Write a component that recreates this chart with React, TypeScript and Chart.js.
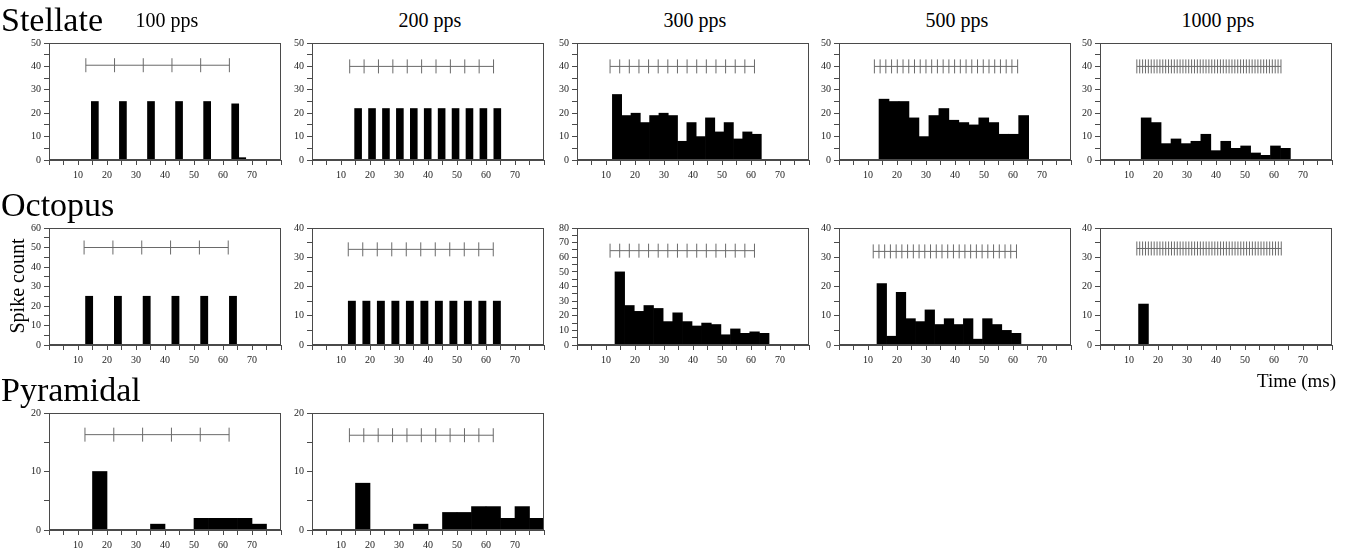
import React, { useEffect, useRef } from "react";
import { Chart, registerables } from "chart.js";

Chart.register(...registerables);

const SERIF = "'Liberation Serif', 'Times New Roman', serif";

// ---------------- data ----------------
const cellTypes = ["Stellate", "Octopus", "Pyramidal"];
const rateLabels = ["100 pps", "200 pps", "300 pps", "500 pps", "1000 pps"];
const xTickValues = [10, 20, 30, 40, 50, 60, 70];
const yAxisTitle = "Spike count";
const xAxisTitle = "Time (ms)";

// Histograms: [first bin edge (ms), bin width (ms)] and spike counts per bin
const stellate100Bins = [14.6, 2.42];
const stellate100Counts = [25, 0, 0, 0, 25, 0, 0, 0, 25, 0, 0, 0, 25, 0, 0, 0, 25, 0, 0, 0, 24, 1];
const stellate200Bins = [14.7, 2.4];
const stellate200Counts = [22, 0, 22, 0, 22, 0, 22, 0, 22, 0, 22, 0, 22, 0, 22, 0, 22, 0, 22, 0, 22];
const stellate300Bins = [12.2, 3.21];
const stellate300Counts = [28, 19, 20, 16, 19, 20, 19, 8, 16, 10, 18, 12, 16, 9, 12, 11];
const stellate500Bins = [13.8, 3.44];
const stellate500Counts = [26, 25, 25, 18, 10, 19, 22, 17, 16, 15, 18, 16, 11, 11, 19];
const stellate1000Bins = [14.2, 3.43];
const stellate1000Counts = [18, 16, 7, 9, 7, 8, 11, 4, 8, 5, 6, 3, 2, 6, 5];

const octopus100Bins = [12.6, 2.48];
const octopus100Counts = [25, 0, 0, 0, 25, 0, 0, 0, 25, 0, 0, 0, 25, 0, 0, 0, 25, 0, 0, 0, 25];
const octopus200Bins = [12.5, 2.5];
const octopus200Counts = [15, 0, 15, 0, 15, 0, 15, 0, 15, 0, 15, 0, 15, 0, 15, 0, 15, 0, 15, 0, 15];
const octopus300Bins = [13.1, 3.32];
const octopus300Counts = [50, 27, 23, 27, 25, 16, 22, 16, 13, 15, 14, 7, 11, 8, 9, 8];
const octopus500Bins = [13.1, 3.31];
const octopus500Counts = [21, 3, 18, 9, 8, 12, 7, 9, 7, 9, 2, 9, 7, 5, 4];
const octopus1000Bins = [13.3, 3.4];
const octopus1000Counts = [14, 0, 0, 0, 0, 0, 0, 0, 0, 0, 0, 0, 0, 0, 0];

const pyramidal100Bins = [15, 5];
const pyramidal100Counts = [10, 0, 0, 0, 1, 0, 0, 2, 2, 2, 2, 1];
const pyramidal200Bins = [15, 5];
const pyramidal200Counts = [8, 0, 0, 0, 1, 0, 3, 3, 4, 4, 2, 4, 2];

// Stimulus trains: [first pulse (ms), inter-pulse interval (ms), number of pulses]
const stellate100Stim = [12.7, 9.9, 6];
const stellate200Stim = [13.0, 4.96, 11];
const stellate300Stim = [11.4, 3.32, 16];
const stellate500Stim = [12.2, 1.976, 26];
const stellate1000Stim = [12.7, 0.994, 51];
const octopus100Stim = [12.1, 9.94, 6];
const octopus200Stim = [12.5, 5.0, 11];
const octopus300Stim = [11.4, 3.32, 16];
const octopus500Stim = [11.8, 1.976, 26];
const octopus1000Stim = [12.7, 0.996, 51];
const pyramidal100Stim = [12.4, 9.94, 6];
const pyramidal200Stim = [12.9, 4.96, 11];

// y-axis maxima
const stellateYMax = [50, 50, 50, 50, 50];
const octopusYMax = [60, 40, 80, 40, 40];
const pyramidalYMax = [20, 20];
// stimulus marker level (in y units)
const stellateStimLevel = [40.5, 40, 40, 40, 40];
const octopusStimLevel = [50, 32.7, 64.5, 32, 33];
const pyramidalStimLevel = [16.3, 16.2];

// ---------------- layout ----------------
const COL_LEFT = [49, 312, 577, 839, 1100];
const ROW_TOP = [42, 227, 412];
const PLOT_W = 236;
const PLOT_H = 118;
const Y_W = 34;
const X_H = 22;
const PAD_T = 8;
const PAD_R = 4;

type PanelDef = {
  bins: number[];
  counts: number[];
  stim: number[];
  yMax: number;
  level: number;
};

const rows: PanelDef[][] = [
  [
    { bins: stellate100Bins, counts: stellate100Counts, stim: stellate100Stim, yMax: stellateYMax[0], level: stellateStimLevel[0] },
    { bins: stellate200Bins, counts: stellate200Counts, stim: stellate200Stim, yMax: stellateYMax[1], level: stellateStimLevel[1] },
    { bins: stellate300Bins, counts: stellate300Counts, stim: stellate300Stim, yMax: stellateYMax[2], level: stellateStimLevel[2] },
    { bins: stellate500Bins, counts: stellate500Counts, stim: stellate500Stim, yMax: stellateYMax[3], level: stellateStimLevel[3] },
    { bins: stellate1000Bins, counts: stellate1000Counts, stim: stellate1000Stim, yMax: stellateYMax[4], level: stellateStimLevel[4] },
  ],
  [
    { bins: octopus100Bins, counts: octopus100Counts, stim: octopus100Stim, yMax: octopusYMax[0], level: octopusStimLevel[0] },
    { bins: octopus200Bins, counts: octopus200Counts, stim: octopus200Stim, yMax: octopusYMax[1], level: octopusStimLevel[1] },
    { bins: octopus300Bins, counts: octopus300Counts, stim: octopus300Stim, yMax: octopusYMax[2], level: octopusStimLevel[2] },
    { bins: octopus500Bins, counts: octopus500Counts, stim: octopus500Stim, yMax: octopusYMax[3], level: octopusStimLevel[3] },
    { bins: octopus1000Bins, counts: octopus1000Counts, stim: octopus1000Stim, yMax: octopusYMax[4], level: octopusStimLevel[4] },
  ],
  [
    { bins: pyramidal100Bins, counts: pyramidal100Counts, stim: pyramidal100Stim, yMax: pyramidalYMax[0], level: pyramidalStimLevel[0] },
    { bins: pyramidal200Bins, counts: pyramidal200Counts, stim: pyramidal200Stim, yMax: pyramidalYMax[1], level: pyramidalStimLevel[1] },
  ],
];

const AXIS_COLOR = "#4a4a4a";
const STIM_COLOR = "#6a6a6a";
const TICK_FONT = { family: SERIF, size: 10 };

const framePlugin = {
  id: "frame",
  afterDatasetsDraw(chart: any) {
    const { ctx, chartArea: a } = chart;
    ctx.save();
    ctx.strokeStyle = AXIS_COLOR;
    ctx.lineWidth = 1;
    ctx.strokeRect(Math.round(a.left) + 0.5, Math.round(a.top) + 0.5, Math.round(a.right - a.left) - 1, Math.round(a.bottom - a.top) - 1);
    ctx.restore();
  },
};

function Panel({ def, left, top }: { def: PanelDef; left: number; top: number }) {
  const ref = useRef<HTMLCanvasElement>(null);
  useEffect(() => {
    const [binStart, binWidth] = def.bins;
    const bars = def.counts.map((c, i) => ({ x: binStart + (i + 0.5) * binWidth, y: c }));
    const [s0, period, n] = def.stim;
    const pulses: { x: number; y: number }[] = [];
    for (let k = 0; k < n; k++) pulses.push({ x: s0 + k * period, y: def.level });
    const trainLine = [pulses[0], pulses[pulses.length - 1]];

    const chart = new Chart(ref.current as HTMLCanvasElement, {
      type: "bar",
      data: {
        datasets: [
          {
            type: "bar",
            data: bars as any,
            backgroundColor: "#000",
            borderWidth: 0,
            barPercentage: 1,
            categoryPercentage: 1,
            order: 3,
          } as any,
          {
            type: "line",
            data: trainLine as any,
            borderColor: STIM_COLOR,
            borderWidth: 1,
            pointRadius: 0,
            fill: false,
            order: 2,
          } as any,
          {
            type: "line",
            data: pulses as any,
            showLine: false,
            pointStyle: "line",
            pointRotation: 90,
            pointRadius: 7,
            pointBorderColor: STIM_COLOR,
            pointBorderWidth: 1,
            order: 1,
          } as any,
        ],
      },
      options: {
        animation: false,
        responsive: true,
        maintainAspectRatio: false,
        events: [],
        layout: { padding: { top: PAD_T, right: PAD_R, left: 0, bottom: 0 } },
        plugins: { legend: { display: false }, tooltip: { enabled: false }, title: { display: false } },
        scales: {
          x: {
            type: "linear",
            min: 0,
            max: 80,
            offset: false,
            grid: { display: true, drawOnChartArea: false, drawTicks: true, tickLength: 5, color: AXIS_COLOR, offset: false },
            border: { display: true, color: AXIS_COLOR },
            ticks: {
              stepSize: 5,
              autoSkip: false,
              maxRotation: 0,
              padding: 4,
              color: "#222",
              font: TICK_FONT,
              callback: (v: any) => (xTickValues.includes(Number(v)) ? String(v) : ""),
            },
            afterFit: (s: any) => {
              s.height = X_H;
            },
          } as any,
          y: {
            type: "linear",
            min: 0,
            max: def.yMax,
            grid: { display: true, drawOnChartArea: false, drawTicks: true, tickLength: 5, color: AXIS_COLOR },
            border: { display: true, color: AXIS_COLOR },
            ticks: {
              stepSize: 5,
              autoSkip: false,
              padding: 3,
              color: "#222",
              font: TICK_FONT,
              callback: (v: any) => (Number(v) % 10 === 0 ? String(v) : ""),
            },
            afterFit: (s: any) => {
              s.width = Y_W;
            },
          } as any,
        },
      },
      plugins: [framePlugin],
    });
    return () => chart.destroy();
  }, []);

  return (
    <div
      style={{
        position: "absolute",
        left: left - Y_W,
        top: top - PAD_T,
        width: Y_W + PLOT_W + PAD_R,
        height: PAD_T + PLOT_H + X_H,
      }}
    >
      <canvas ref={ref} />
    </div>
  );
}

const textBase: React.CSSProperties = {
  position: "absolute",
  fontFamily: SERIF,
  color: "#000",
  lineHeight: 1,
  whiteSpace: "nowrap",
};

export default function App() {
  return (
    <div style={{ position: "absolute", left: 0, top: 0, width: 1350, height: 552, background: "#fff", overflow: "hidden" }}>
      {rows.map((row, r) =>
        row.map((def, c) => <Panel key={`${r}-${c}`} def={def} left={COL_LEFT[c]} top={ROW_TOP[r]} />)
      )}
      {cellTypes.map((name, r) => (
        <div key={name} style={{ ...textBase, left: 1, top: ROW_TOP[r] - 39, fontSize: 34 }}>
          {name}
        </div>
      ))}
      {rateLabels.map((lab, c) => (
        <div
          key={lab}
          style={{ ...textBase, left: COL_LEFT[c], width: PLOT_W, textAlign: "center", top: 10, fontSize: 20 }}
        >
          {lab}
        </div>
      ))}
      <div
        style={{
          ...textBase,
          left: 17 - 60,
          top: 286 - 10,
          width: 120,
          textAlign: "center",
          fontSize: 20,
          transform: "rotate(-90deg)",
          transformOrigin: "60px 10px",
        }}
      >
        {yAxisTitle}
      </div>
      <div style={{ ...textBase, left: 1100, width: 236, textAlign: "right", top: 371, fontSize: 19 }}>
        {xAxisTitle}
      </div>
    </div>
  );
}
